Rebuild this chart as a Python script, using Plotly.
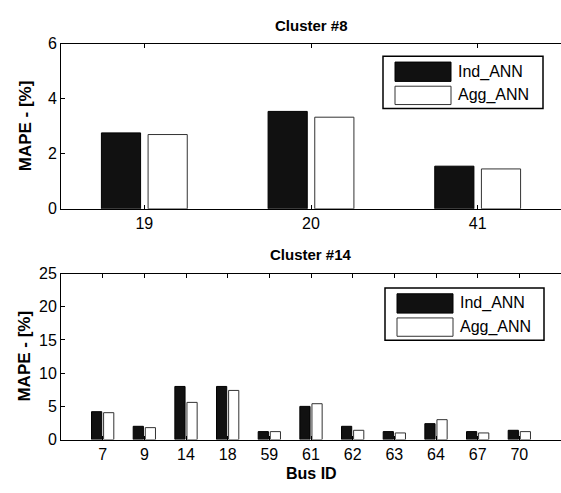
import plotly.graph_objects as go

# ---- data ----
top_buses = ["19", "20", "41"]
top_ind = [2.76, 3.54, 1.55]
top_agg = [2.70, 3.33, 1.45]

bot_buses = ["7", "9", "14", "18", "59", "61", "62", "63", "64", "67", "70"]
bot_ind = [4.2, 2.0, 8.0, 8.0, 1.2, 5.0, 2.0, 1.2, 2.4, 1.2, 1.4]
bot_agg = [4.05, 1.8, 5.6, 7.4, 1.2, 5.4, 1.4, 1.0, 3.0, 1.0, 1.2]

series_names = ["Ind_ANN", "Agg_ANN"]
top_yticks = [0, 2, 4, 6]
bot_yticks = [0, 5, 10, 15, 20, 25]

W, H = 561, 493
FONT = "Liberation Sans, Arial, sans-serif"
LEFT = 61


def px(x):
    return x / W


def py(y):
    return 1 - y / H


fig = go.Figure()

top_pos = list(range(1, len(top_buses) + 1))
bot_pos = list(range(1, len(bot_buses) + 1))

BW, GAP = 0.235, 0.045
fig.add_trace(go.Bar(x=top_pos, y=top_ind, name=series_names[0], width=BW, offset=-GAP / 2 - BW,
                     marker=dict(color="#111111", line=dict(color="#000000", width=1)),
                     xaxis="x", yaxis="y", showlegend=False))
fig.add_trace(go.Bar(x=top_pos, y=top_agg, name=series_names[1], width=BW, offset=GAP / 2,
                     marker=dict(color="#ffffff", line=dict(color="#333333", width=1)),
                     xaxis="x", yaxis="y", showlegend=False))
BW2, GAP2 = 0.245, 0.045
fig.add_trace(go.Bar(x=bot_pos, y=bot_ind, name=series_names[0], width=BW2, offset=-GAP2 / 2 - BW2,
                     marker=dict(color="#111111", line=dict(color="#000000", width=1)),
                     xaxis="x2", yaxis="y2", showlegend=False))
fig.add_trace(go.Bar(x=bot_pos, y=bot_agg, name=series_names[1], width=BW2, offset=GAP2 / 2,
                     marker=dict(color="#ffffff", line=dict(color="#333333", width=1)),
                     xaxis="x2", yaxis="y2", showlegend=False))

tick_font = dict(family=FONT, size=16, color="black")
axis_common = dict(showline=True, linecolor="black", linewidth=1, ticks="inside", ticklen=4,
                   tickcolor="black", showgrid=False, zeroline=False, tickfont=tick_font)
right_ticks = dict(showline=False, ticks="inside", ticklen=4, tickcolor="black",
                   showgrid=False, zeroline=False, showticklabels=False, side="right")

TOP_Y = (208, 37)
BOT_Y = (447, 275)
fig.update_layout(
    width=W, height=H,
    margin=dict(l=0, r=0, t=0, b=0),
    plot_bgcolor="white", paper_bgcolor="white",
    showlegend=False,
    xaxis=dict(domain=[px(LEFT), 1], range=[0.5, 3.5], tickvals=top_pos, ticktext=top_buses,
               anchor="y", mirror="ticks", **axis_common),
    yaxis=dict(domain=[py(TOP_Y[0]), py(TOP_Y[1])], range=[0, 6], tickvals=top_yticks,
               anchor="x", **axis_common),
    xaxis2=dict(domain=[px(LEFT), 1], range=[0, 12], tickvals=bot_pos, ticktext=bot_buses,
                anchor="y2", mirror="ticks", **axis_common),
    yaxis2=dict(domain=[py(BOT_Y[0]), py(BOT_Y[1])], range=[0, 25], tickvals=bot_yticks,
                anchor="x2", **axis_common),
    yaxis3=dict(overlaying="y", anchor="x", range=[0, 6], tickvals=top_yticks, **right_ticks),
    yaxis4=dict(overlaying="y2", anchor="x2", range=[0, 25], tickvals=bot_yticks, **right_ticks),
)

title_font = dict(family=FONT, size=15, color="black")
ylab_font = dict(family=FONT, size=17, color="black")


def ann(text, x, y, font, **kw):
    d = dict(text=text, x=px(x), y=py(y), xref="paper", yref="paper", showarrow=False,
             xanchor="center", yanchor="middle", font=font)
    d.update(kw)
    return d


annotations = [
    ann("<b>Cluster #8</b>", 311, 18, title_font),
    ann("<b>Cluster #14</b>", 311, 255, title_font),
    ann("<b>Bus ID</b>", 311, 482, dict(family=FONT, size=16, color="black")),
    ann("<b>MAPE - [%]</b>", 25, (TOP_Y[0] + TOP_Y[1]) / 2, ylab_font, textangle=-90),
    ann("<b>MAPE - [%]</b>", 25, (BOT_Y[0] + BOT_Y[1]) / 2, ylab_font, textangle=-90),
]

shapes = []
leg_font = dict(family=FONT, size=16, color="black")
for (bx0, by0, bx1, by1) in [(383, 50, 543, 104), (385, 290, 544, 344)]:
    shapes.append(dict(type="rect", xref="paper", yref="paper", x0=px(bx0), x1=px(bx1),
                       y0=py(by1), y1=py(by0), line=dict(color="black", width=1.5),
                       fillcolor="white", layer="above"))
    sx0, sx1 = bx0 + 12, bx0 + 68
    shapes.append(dict(type="rect", xref="paper", yref="paper", x0=px(sx0), x1=px(sx1),
                       y0=py(by0 + 26), y1=py(by0 + 6), line=dict(color="black", width=1),
                       fillcolor="#111111", layer="above"))
    shapes.append(dict(type="rect", xref="paper", yref="paper", x0=px(sx0), x1=px(sx1),
                       y0=py(by0 + 50), y1=py(by0 + 31), line=dict(color="#333333", width=1),
                       fillcolor="white", layer="above"))
    annotations.append(ann(series_names[0], sx1 + 5, by0 + 16, leg_font, xanchor="left"))
    annotations.append(ann(series_names[1], sx1 + 5, by0 + 40, leg_font, xanchor="left"))

fig.update_layout(annotations=annotations, shapes=shapes)
fig.write_html("out.html")
